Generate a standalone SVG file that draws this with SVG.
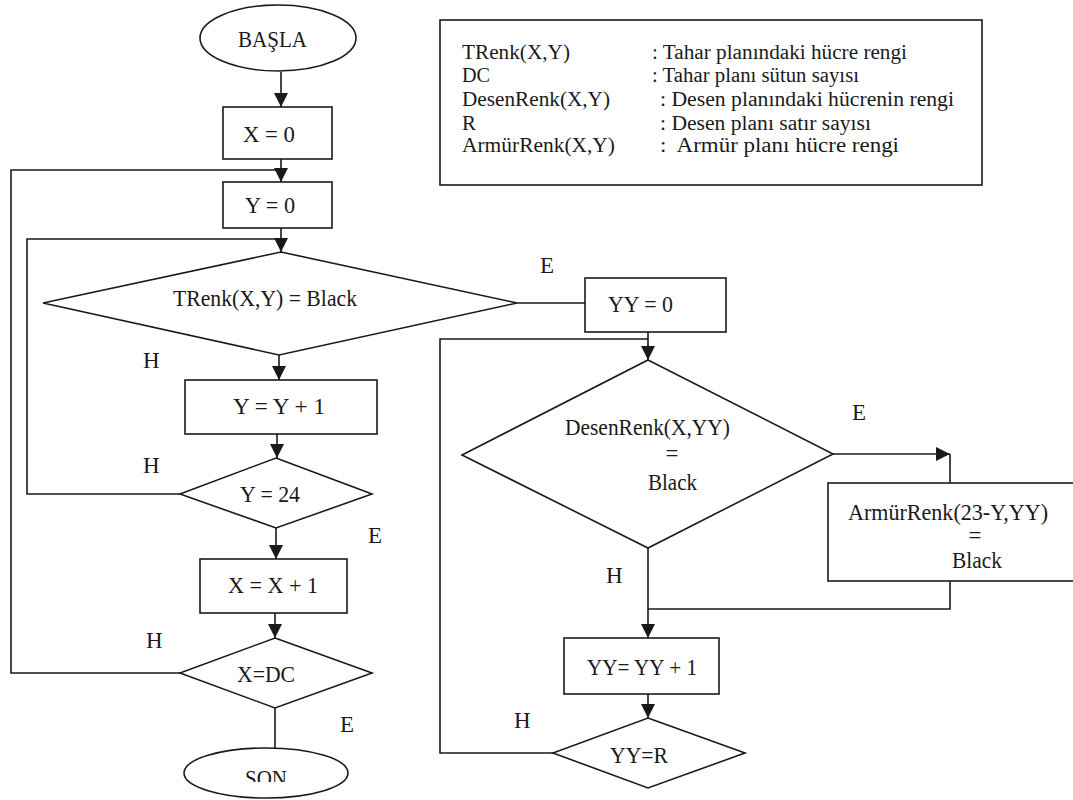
<svg xmlns="http://www.w3.org/2000/svg" width="1073" height="800" viewBox="0 0 1073 800">
  <style>
    .shape { fill: #ffffff; stroke: #1a1a1a; stroke-width: 1.6; }
    .wire { fill: none; stroke: #1a1a1a; stroke-width: 1.6; }
    .arrow { marker-end: url(#head); }
    text { font-family: "Liberation Serif", "DejaVu Serif", "Times New Roman", serif; font-size: 23px; fill: #1a1a1a; }
    .legend text { font-size: 20px; }
    .mid { text-anchor: middle; }
  </style>
  <defs>
    <marker id="head" viewBox="0 0 10 10" refX="10" refY="5" markerWidth="15" markerHeight="14" markerUnits="userSpaceOnUse" orient="auto">
      <path d="M0,0 L10,5 L0,10 z" fill="#1a1a1a"/>
    </marker>
    <clipPath id="sonClip">
      <rect x="150" y="740" width="250" height="42"/>
    </clipPath>
  </defs>
  <rect width="1073" height="800" fill="#ffffff"/>

  <!-- legend -->
  <g id="legend" class="legend">
    <rect class="shape" x="440" y="20" width="542" height="165"/>
    <text x="462" y="59" textLength="108" lengthAdjust="spacingAndGlyphs">TRenk(X,Y)</text>
    <text x="462" y="82" textLength="28" lengthAdjust="spacingAndGlyphs">DC</text>
    <text x="462" y="106" textLength="148" lengthAdjust="spacingAndGlyphs">DesenRenk(X,Y)</text>
    <text x="462" y="130" textLength="14" lengthAdjust="spacingAndGlyphs">R</text>
    <text x="462" y="152" textLength="153" lengthAdjust="spacingAndGlyphs">ArmürRenk(X,Y)</text>
    <text x="652" y="59" textLength="255" lengthAdjust="spacingAndGlyphs">: Tahar planındaki hücre rengi</text>
    <text x="652" y="82" textLength="207" lengthAdjust="spacingAndGlyphs">: Tahar planı sütun sayısı</text>
    <text x="660" y="106" textLength="294" lengthAdjust="spacingAndGlyphs">: Desen planındaki hücrenin rengi</text>
    <text x="660" y="130" textLength="211" lengthAdjust="spacingAndGlyphs">: Desen planı satır sayısı</text>
    <text x="660" y="152" textLength="239" lengthAdjust="spacingAndGlyphs" xml:space="preserve">:  Armür planı hücre rengi</text>
  </g>

  <!-- connectors -->
  <g id="connectors">
    <line class="wire arrow" x1="281" y1="72" x2="281" y2="107"/>
    <line class="wire arrow" x1="281" y1="159" x2="281" y2="182"/>
    <polyline class="wire" points="180,673 11,673 11,170 281,170"/>
    <line class="wire arrow" x1="281" y1="228" x2="281" y2="252"/>
    <polyline class="wire" points="180,494 27,494 27,239 281,239"/>
    <line class="wire arrow" x1="279" y1="355" x2="279" y2="380"/>
    <line class="wire arrow" x1="277" y1="434" x2="277" y2="458"/>
    <line class="wire arrow" x1="276" y1="528" x2="276" y2="559"/>
    <line class="wire arrow" x1="275" y1="613" x2="275" y2="638"/>
    <line class="wire" x1="275" y1="708" x2="275" y2="748"/>
    <line class="wire" x1="517" y1="303" x2="585" y2="303"/>
    <line class="wire arrow" x1="648" y1="332" x2="648" y2="360"/>
    <polyline class="wire" points="553,753 440,753 440,339 648,339"/>
    <line class="wire arrow" x1="833" y1="454" x2="950" y2="454"/>
    <line class="wire" x1="950" y1="454" x2="950" y2="483"/>
    <polyline class="wire" points="950,581 950,609 648,609"/>
    <line class="wire arrow" x1="648" y1="548" x2="648" y2="638"/>
    <line class="wire arrow" x1="648" y1="694" x2="648" y2="718"/>
  </g>

  <!-- outer / inner loop nodes -->
  <g id="start">
    <ellipse class="shape" cx="278" cy="38" rx="78" ry="33"/>
    <text x="238" y="47" textLength="69" lengthAdjust="spacingAndGlyphs">BAŞLA</text>
  </g>
  <g id="x0">
    <rect class="shape" x="223" y="107" width="109" height="52"/>
    <text x="243" y="142" textLength="52" lengthAdjust="spacingAndGlyphs">X = 0</text>
  </g>
  <g id="y0">
    <rect class="shape" x="223" y="182" width="109" height="46"/>
    <text x="245" y="213" textLength="50" lengthAdjust="spacingAndGlyphs">Y = 0</text>
  </g>
  <g id="trenk">
    <polygon class="shape" points="281,252 517,303 279,355 43,303"/>
    <text x="173" y="306" textLength="184" lengthAdjust="spacingAndGlyphs">TRenk(X,Y) = Black</text>
  </g>
  <g id="yinc">
    <rect class="shape" x="185" y="380" width="192" height="54"/>
    <text x="233" y="414" textLength="92" lengthAdjust="spacingAndGlyphs">Y = Y + 1</text>
  </g>
  <g id="y24">
    <polygon class="shape" points="276,458 372,494 276,528 180,494"/>
    <text x="240" y="502" textLength="60" lengthAdjust="spacingAndGlyphs">Y = 24</text>
  </g>
  <g id="xinc">
    <rect class="shape" x="200" y="559" width="147" height="54"/>
    <text x="228" y="593" textLength="90" lengthAdjust="spacingAndGlyphs">X = X + 1</text>
  </g>
  <g id="xdc">
    <polygon class="shape" points="275,638 372,673 275,708 180,673"/>
    <text x="237" y="682" textLength="58" lengthAdjust="spacingAndGlyphs">X=DC</text>
  </g>
  <g id="end">
    <ellipse class="shape" cx="266" cy="773" rx="82" ry="25"/>
    <text x="245" y="786" textLength="42" lengthAdjust="spacingAndGlyphs" clip-path="url(#sonClip)">SON</text>
  </g>

  <!-- pattern loop nodes -->
  <g id="yy0">
    <rect class="shape" x="585" y="278" width="141" height="54"/>
    <text x="608" y="312" textLength="65" lengthAdjust="spacingAndGlyphs">YY = 0</text>
  </g>
  <g id="desen">
    <polygon class="shape" points="648,360 833,454 648,548 462,455"/>
    <text x="565" y="435" textLength="165" lengthAdjust="spacingAndGlyphs">DesenRenk(X,YY)</text>
    <text class="mid" x="672" y="461">=</text>
    <text x="648" y="490" textLength="49" lengthAdjust="spacingAndGlyphs">Black</text>
  </g>
  <g id="armur">
    <rect class="shape" x="828" y="483" width="260" height="98"/>
    <text x="848" y="520" textLength="200" lengthAdjust="spacingAndGlyphs">ArmürRenk(23-Y,YY)</text>
    <text class="mid" x="975" y="543">=</text>
    <text x="952" y="568" textLength="50" lengthAdjust="spacingAndGlyphs">Black</text>
  </g>
  <g id="yyinc">
    <rect class="shape" x="564" y="638" width="155" height="56"/>
    <text x="587" y="675" textLength="110" lengthAdjust="spacingAndGlyphs">YY= YY + 1</text>
  </g>
  <g id="yyr">
    <polygon class="shape" points="648,718 745,753 648,788 553,753"/>
    <text x="610" y="763" textLength="58" lengthAdjust="spacingAndGlyphs">YY=R</text>
  </g>

  <!-- branch labels -->
  <g id="labels">
    <text x="143" y="368">H</text>
    <text x="143" y="473">H</text>
    <text x="368" y="543">E</text>
    <text x="146" y="648">H</text>
    <text x="340" y="732">E</text>
    <text x="540" y="273">E</text>
    <text x="852" y="420">E</text>
    <text x="606" y="583">H</text>
    <text x="514" y="728">H</text>
  </g>
</svg>
